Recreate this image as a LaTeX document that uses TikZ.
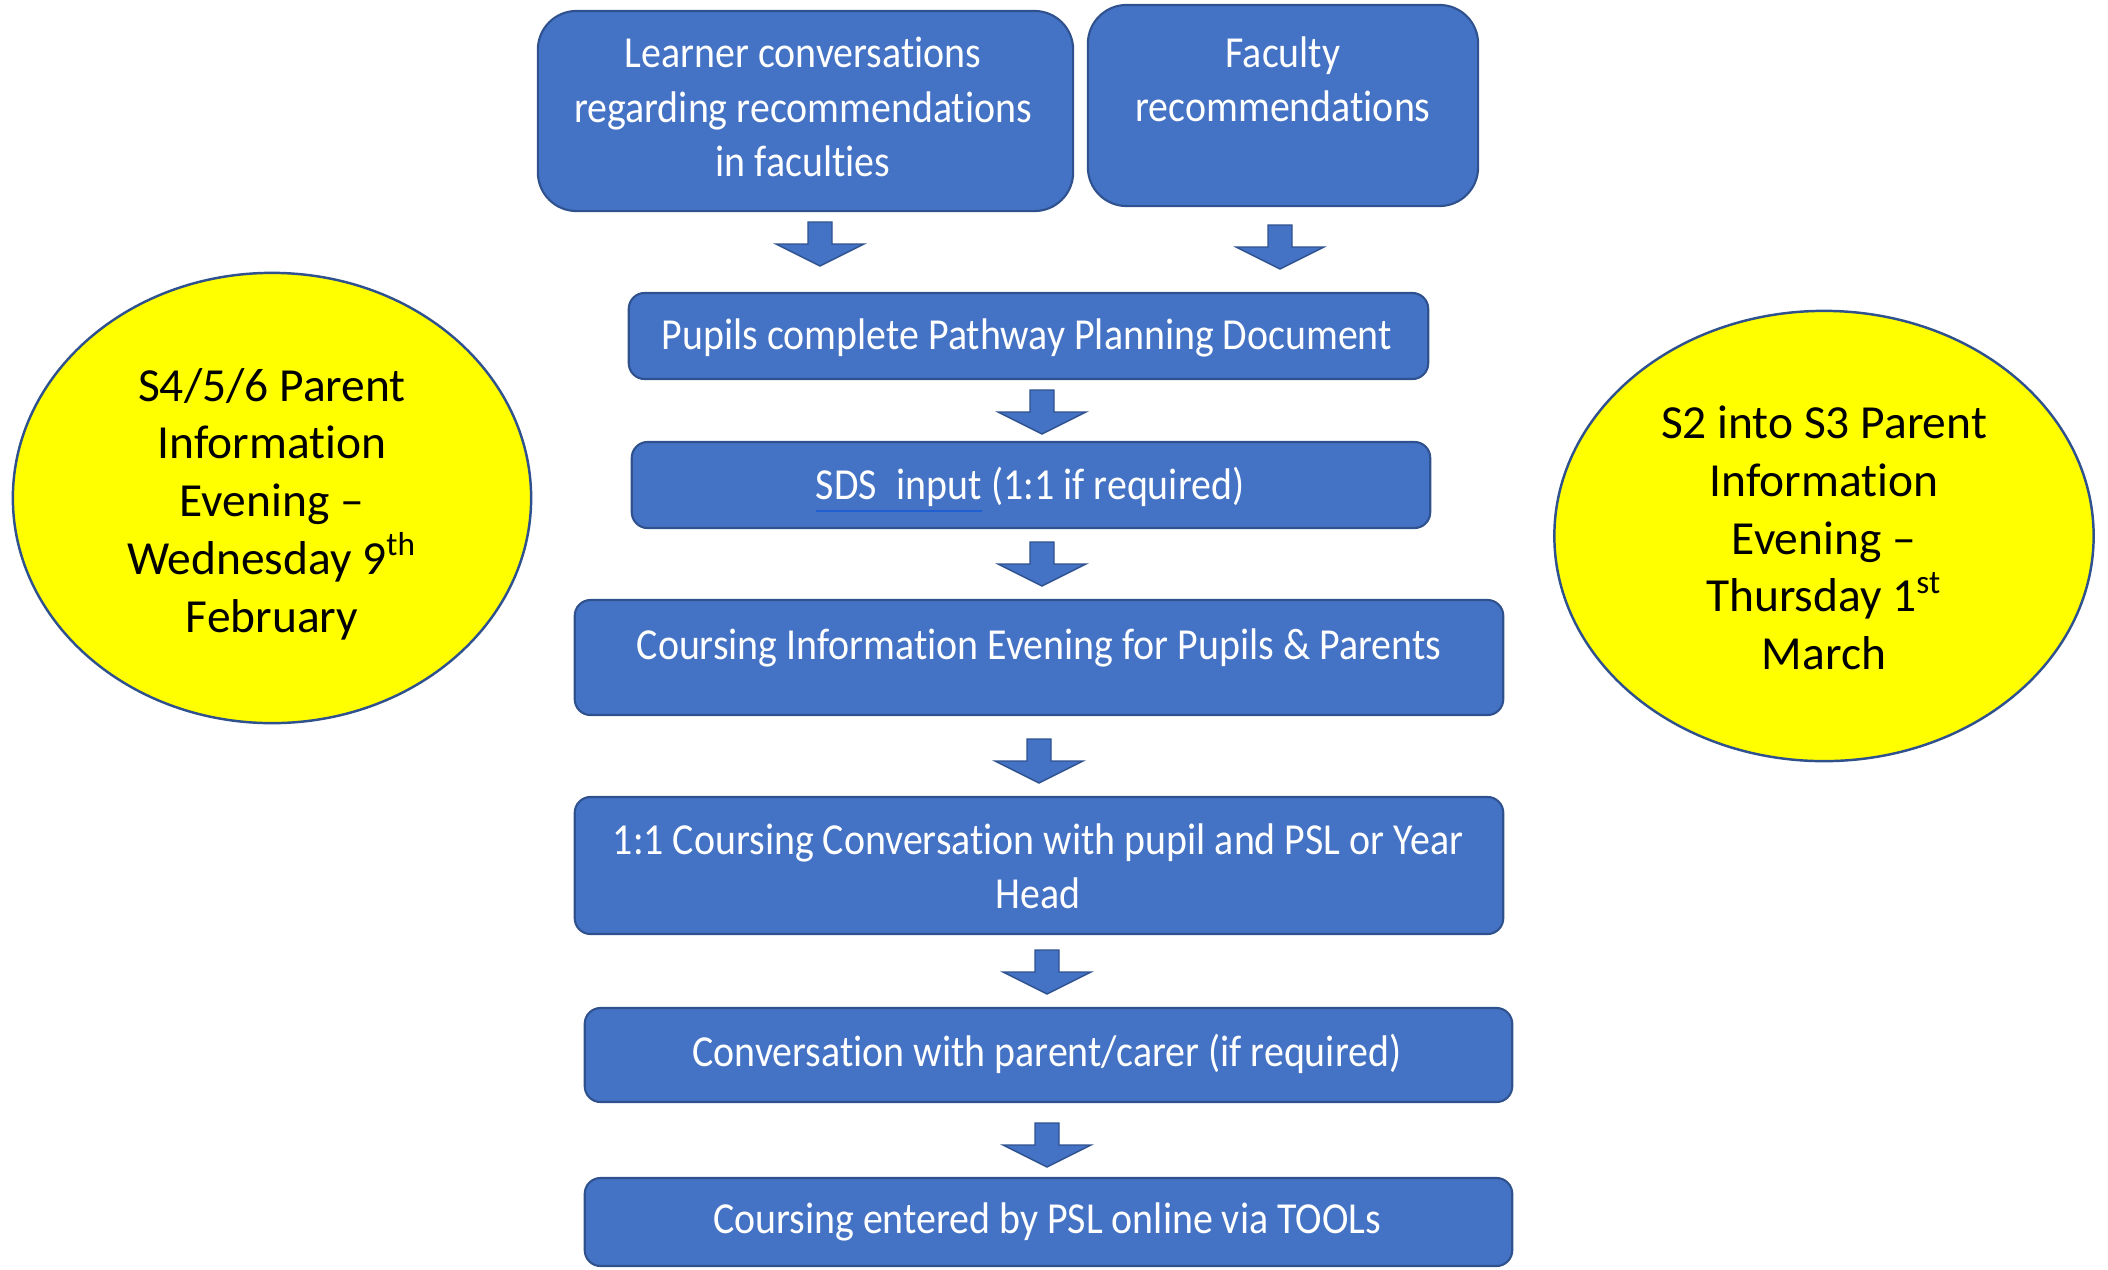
\documentclass[tikz,border=0pt]{standalone}
\usepackage{fontspec}
\setmainfont[Ligatures={NoCommon}]{Carlito}
\newfontfamily\boxfont[FakeStretch=0.9,Ligatures={NoCommon}]{Carlito}
\usetikzlibrary{calc,shapes.geometric}
\definecolor{boxblue}{HTML}{4472C4}
\definecolor{edgeblue}{HTML}{2F528F}
\definecolor{linkblue}{HTML}{1F5FD0}
\definecolor{evyellow}{HTML}{FFFF00}
\begin{document}
\begin{tikzpicture}[x=0.01cm,y=-0.01cm,
 flowbox/.style={draw=edgeblue, line width=0.6pt, fill=boxblue, rounded corners=4.5pt, inner sep=0pt},
 bigbox/.style={flowbox, rounded corners=11pt},
 boxtext/.style={text=white, font=\boxfont\fontsize{12.6}{15.4}\selectfont, align=center, inner sep=0pt},
 event/.style={ellipse, draw=edgeblue, line width=0.7pt, fill=evyellow, inner sep=0pt},
 eventtext/.style={font=\fontsize{13.5}{16.4}\selectfont, align=center, inner sep=0pt},
 blockarrow/.style={fill=boxblue, draw=edgeblue, line width=0.4pt},
 downarrow/.pic={\path[blockarrow] (-12,-22) -- (12,-22) -- (12,0) -- (44,0) -- (0,22) -- (-44,0) -- (-12,0) -- cycle;}]
\useasboundingbox (0,0) rectangle (2108,1269);
\clip (0,0) rectangle (2108,1269);

% flow boxes
\node[bigbox, minimum width=5.35cm, minimum height=2.00cm] (b1) at (805.5,111) {};
\node[bigbox, minimum width=3.90cm, minimum height=2.01cm] (b2) at (1283,105.5) {};
\node[flowbox, minimum width=7.99cm, minimum height=0.86cm] (b3) at (1028.5,336) {};
\node[flowbox, minimum width=7.98cm, minimum height=0.86cm] (b4) at (1031,485) {};
\node[flowbox, minimum width=9.28cm, minimum height=1.15cm] (b5) at (1039,657.5) {};
\node[flowbox, minimum width=9.28cm, minimum height=1.37cm] (b6) at (1039,865.5) {};
\node[flowbox, minimum width=9.27cm, minimum height=0.94cm] (b7) at (1048.5,1055) {};
\node[flowbox, minimum width=9.27cm, minimum height=0.88cm] (b8) at (1048.5,1222) {};

% texts
\node[boxtext] (t1) at (803,107) {Learner conversations\\regarding recommendations\\in faculties};
\node[boxtext] (t2) at (1283,79) {Faculty\\recommendations};
\node[boxtext] (t3) at (1027,338) {Pupils complete Pathway Planning Document};
\node[boxtext] (t4) at (1030,490) {{\color{linkblue}\underline{\textcolor{white}{SDS\hspace{0.45em}input}}} (1:1 if required)};
\node[boxtext] (t5) at (1039,648) {Coursing Information Evening for Pupils \& Parents};
\node[boxtext] (t6) at (1038,866) {1:1 Coursing Conversation with pupil and PSL or Year\\Head};
\node[boxtext] (t7) at (1047,1054) {Conversation with parent/carer (if required)};
\node[boxtext] (t8) at (1047,1222) {Coursing entered by PSL online via TOOLs};

% block arrows
\pic (a1) at (820,244) {downarrow};
\pic (a2) at (1280,247) {downarrow};
\pic (a3) at (1042,412) {downarrow};
\pic (a4) at (1042,564) {downarrow};
\pic (a5) at (1039,761) {downarrow};
\pic (a6) at (1047,972) {downarrow};
\pic (a7) at (1047,1145) {downarrow};

% events
\node[event, minimum width=5.18cm, minimum height=4.50cm] (e1) at (272,498) {};
\node[eventtext] (et1) at (272,504) {S4/5/6 Parent\\Information\\Evening --\\Wednesday 9\textsuperscript{th}\\February};
\node[event, minimum width=5.39cm, minimum height=4.50cm] (e2) at (1824,536) {};
\node[eventtext] (et2) at (1824,538) {S2 into S3 Parent\\Information\\Evening --\\Thursday 1\textsuperscript{st}\\March};
\end{tikzpicture}
\end{document}
